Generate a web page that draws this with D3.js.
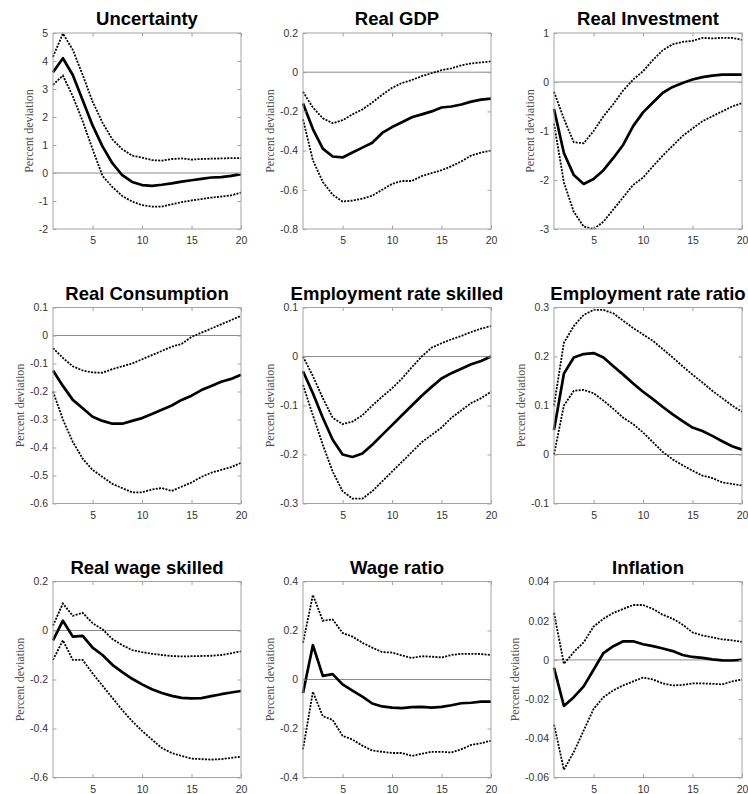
<!DOCTYPE html>
<html>
<head>
<meta charset="utf-8">
<script src="https://cdn.jsdelivr.net/npm/d3@7"></script>
<style>
  body { margin: 0; background: #fff; }
  svg { display: block; }
</style>
</head>
<body>
<svg id="chart" width="748" height="794"></svg>
<script>
// Impulse responses to an uncertainty shock: median with error bands, 20 quarters.
const horizons = [1,2,3,4,5,6,7,8,9,10,11,12,13,14,15,16,17,18,19,20];
const xTicks = [5, 10, 15, 20];

const titles = ["Uncertainty", "Real GDP", "Real Investment",
                "Real Consumption", "Employment rate skilled", "Employment rate ratio",
                "Real wage skilled", "Wage ratio", "Inflation"];

// Uncertainty
const uncMedian = [3.6, 4.1, 3.5, 2.6, 1.7, 0.95, 0.35, -0.08, -0.32, -0.43, -0.46, -0.42, -0.37, -0.31, -0.26, -0.21, -0.16, -0.15, -0.1, -0.04];
const uncUpper  = [4.15, 4.98, 4.4, 3.5, 2.55, 1.8, 1.2, 0.85, 0.62, 0.55, 0.46, 0.44, 0.5, 0.52, 0.48, 0.5, 0.51, 0.52, 0.53, 0.53];
const uncLower  = [3.15, 3.48, 2.74, 1.85, 0.85, -0.1, -0.5, -0.82, -1.02, -1.15, -1.2, -1.2, -1.12, -1.04, -0.98, -0.93, -0.88, -0.84, -0.8, -0.7];
const uncTicks  = [-2, -1, 0, 1, 2, 3, 4, 5];

// Real GDP
const gdpMedian = [-0.16, -0.29, -0.39, -0.43, -0.435, -0.41, -0.385, -0.36, -0.31, -0.28, -0.255, -0.23, -0.215, -0.2, -0.18, -0.175, -0.165, -0.15, -0.14, -0.135];
const gdpUpper  = [-0.1, -0.18, -0.235, -0.26, -0.245, -0.215, -0.19, -0.155, -0.115, -0.08, -0.055, -0.04, -0.02, -0.005, 0.01, 0.02, 0.035, 0.045, 0.05, 0.055];
const gdpLower  = [-0.24, -0.45, -0.56, -0.625, -0.66, -0.655, -0.645, -0.63, -0.6, -0.57, -0.555, -0.555, -0.53, -0.515, -0.5, -0.48, -0.455, -0.425, -0.41, -0.4];
const gdpTicks  = [-0.8, -0.6, -0.4, -0.2, 0, 0.2];

// Real investment
const invMedian = [-0.55, -1.45, -1.9, -2.08, -1.98, -1.8, -1.55, -1.28, -0.9, -0.62, -0.42, -0.22, -0.1, -0.02, 0.05, 0.1, 0.13, 0.15, 0.15, 0.15];
const invUpper  = [-0.2, -0.75, -1.23, -1.25, -1.0, -0.7, -0.45, -0.17, 0.05, 0.22, 0.45, 0.65, 0.77, 0.82, 0.84, 0.9, 0.89, 0.9, 0.9, 0.86];
const invLower  = [-0.85, -2.05, -2.65, -2.95, -3.0, -2.85, -2.6, -2.35, -2.1, -1.95, -1.72, -1.5, -1.3, -1.1, -0.95, -0.8, -0.7, -0.6, -0.5, -0.43];
const invTicks  = [-3, -2, -1, 0, 1];

// Real consumption
const conMedian = [-0.125, -0.18, -0.23, -0.26, -0.29, -0.305, -0.315, -0.315, -0.305, -0.295, -0.28, -0.265, -0.25, -0.23, -0.215, -0.195, -0.18, -0.165, -0.155, -0.14];
const conUpper  = [-0.045, -0.08, -0.11, -0.125, -0.132, -0.133, -0.12, -0.11, -0.1, -0.085, -0.07, -0.055, -0.04, -0.03, -0.005, 0.01, 0.025, 0.04, 0.055, 0.07];
const conLower  = [-0.2, -0.3, -0.38, -0.44, -0.48, -0.505, -0.53, -0.545, -0.56, -0.56, -0.55, -0.545, -0.555, -0.54, -0.525, -0.505, -0.49, -0.48, -0.47, -0.455];
const conTicks  = [-0.6, -0.5, -0.4, -0.3, -0.2, -0.1, 0, 0.1];

// Employment rate, skilled
const empMedian = [-0.03, -0.075, -0.125, -0.17, -0.2, -0.205, -0.198, -0.18, -0.16, -0.14, -0.12, -0.1, -0.08, -0.062, -0.045, -0.034, -0.025, -0.016, -0.009, 0.0];
const empUpper  = [0.0, -0.04, -0.085, -0.125, -0.138, -0.133, -0.12, -0.1, -0.082, -0.065, -0.045, -0.022, 0.0, 0.018, 0.027, 0.035, 0.042, 0.05, 0.057, 0.062];
const empLower  = [-0.058, -0.12, -0.18, -0.235, -0.275, -0.29, -0.29, -0.275, -0.255, -0.235, -0.215, -0.195, -0.175, -0.16, -0.145, -0.125, -0.11, -0.095, -0.085, -0.072];
const empTicks  = [-0.3, -0.2, -0.1, 0, 0.1];

// Employment rate ratio
const eraMedian = [0.05, 0.165, 0.198, 0.205, 0.207, 0.198, 0.18, 0.163, 0.145, 0.128, 0.113, 0.097, 0.082, 0.068, 0.055, 0.048, 0.038, 0.027, 0.017, 0.01];
const eraUpper  = [0.1, 0.228, 0.262, 0.285, 0.295, 0.295, 0.288, 0.273, 0.258, 0.245, 0.232, 0.215, 0.198, 0.18, 0.163, 0.147, 0.13, 0.115, 0.1, 0.087];
const eraLower  = [0.0, 0.1, 0.13, 0.132, 0.125, 0.11, 0.093, 0.075, 0.062, 0.045, 0.025, 0.005, -0.01, -0.022, -0.033, -0.043, -0.048, -0.057, -0.06, -0.063];
const eraTicks  = [-0.1, 0, 0.1, 0.2, 0.3];

// Real wage, skilled
const rwsMedian = [-0.04, 0.04, -0.025, -0.022, -0.07, -0.1, -0.14, -0.17, -0.197, -0.22, -0.24, -0.255, -0.267, -0.275, -0.277, -0.276, -0.268, -0.26, -0.253, -0.247];
const rwsUpper  = [0.02, 0.11, 0.06, 0.072, 0.03, 0.005, -0.035, -0.06, -0.08, -0.088, -0.095, -0.1, -0.104, -0.106, -0.105, -0.104, -0.103, -0.1, -0.093, -0.085];
const rwsLower  = [-0.12, -0.04, -0.12, -0.12, -0.175, -0.225, -0.275, -0.325, -0.37, -0.41, -0.445, -0.48, -0.5, -0.512, -0.523, -0.525, -0.527, -0.525, -0.52, -0.515];
const rwsTicks  = [-0.6, -0.4, -0.2, 0, 0.2];

// Wage ratio
const wrMedian = [-0.055, 0.14, 0.015, 0.022, -0.02, -0.045, -0.07, -0.098, -0.11, -0.115, -0.117, -0.113, -0.112, -0.115, -0.112, -0.105, -0.097, -0.095, -0.09, -0.09];
const wrUpper  = [0.15, 0.345, 0.24, 0.245, 0.19, 0.175, 0.15, 0.13, 0.112, 0.11, 0.098, 0.088, 0.095, 0.093, 0.09, 0.1, 0.105, 0.105, 0.104, 0.1];
const wrLower  = [-0.285, -0.05, -0.15, -0.165, -0.23, -0.245, -0.27, -0.29, -0.295, -0.3, -0.3, -0.312, -0.303, -0.295, -0.295, -0.298, -0.285, -0.267, -0.26, -0.25];
const wrTicks  = [-0.4, -0.2, 0, 0.2, 0.4];

// Inflation
const infMedian = [-0.004, -0.0235, -0.019, -0.0135, -0.005, 0.0035, 0.007, 0.0095, 0.0095, 0.008, 0.007, 0.0058, 0.0045, 0.0025, 0.0015, 0.001, 0.0003, -0.0002, -0.0003, 0.0];
const infUpper  = [0.024, -0.002, 0.004, 0.009, 0.017, 0.021, 0.024, 0.026, 0.028, 0.028, 0.026, 0.023, 0.021, 0.018, 0.014, 0.0125, 0.0115, 0.0105, 0.01, 0.0092];
const infLower  = [-0.033, -0.056, -0.047, -0.036, -0.025, -0.019, -0.0155, -0.013, -0.011, -0.009, -0.01, -0.012, -0.013, -0.0128, -0.012, -0.012, -0.0122, -0.0125, -0.011, -0.01];
const infTicks  = [-0.06, -0.04, -0.02, 0, 0.02, 0.04];

const panels = [
  { median: uncMedian, upper: uncUpper, lower: uncLower, ticks: uncTicks },
  { median: gdpMedian, upper: gdpUpper, lower: gdpLower, ticks: gdpTicks },
  { median: invMedian, upper: invUpper, lower: invLower, ticks: invTicks },
  { median: conMedian, upper: conUpper, lower: conLower, ticks: conTicks },
  { median: empMedian, upper: empUpper, lower: empLower, ticks: empTicks },
  { median: eraMedian, upper: eraUpper, lower: eraLower, ticks: eraTicks },
  { median: rwsMedian, upper: rwsUpper, lower: rwsLower, ticks: rwsTicks },
  { median: wrMedian,  upper: wrUpper,  lower: wrLower,  ticks: wrTicks },
  { median: infMedian, upper: infUpper, lower: infLower, ticks: infTicks }
].map((p, i) => ({ ...p, title: titles[i] }));

// Grid geometry
const colLeft = [53, 303, 554];
const rowTop = [33, 307.5, 581.5];
const plotW = 188, plotH = 196;
const boxColor = "#a3a3a3";
const tickLen = 3.5;
const fmt = v => String(parseFloat(v.toFixed(4)));

const svg = d3.select("#chart");

panels.forEach((p, i) => {
  const left = colLeft[i % 3], top = rowTop[Math.floor(i / 3)];
  const x = d3.scaleLinear().domain([1, 20]).range([0, plotW]);
  const y = d3.scaleLinear().domain(d3.extent(p.ticks)).range([plotH, 0]);

  const g = svg.append("g").attr("transform", `translate(${left},${top})`);

  // zero reference line
  g.append("line")
    .attr("x1", 0).attr("x2", plotW)
    .attr("y1", y(0)).attr("y2", y(0))
    .attr("stroke", "#8c8c8c").attr("stroke-width", 1);

  const line = d3.line().x((d, k) => x(horizons[k])).y(d => y(d));

  // error bands
  [p.upper, p.lower].forEach(band => {
    g.append("path").datum(band)
      .attr("d", line)
      .attr("fill", "none")
      .attr("stroke", "#000")
      .attr("stroke-width", 1.8)
      .attr("stroke-dasharray", "2,1.3");
  });

  // median response
  g.append("path").datum(p.median)
    .attr("d", line)
    .attr("fill", "none")
    .attr("stroke", "#000")
    .attr("stroke-width", 2.7)
    .attr("stroke-linejoin", "round");

  // axes: inward ticks on all four sides
  const axisStyle = sel => {
    sel.select(".domain").remove();
    sel.selectAll(".tick line").attr("stroke", boxColor);
    sel.selectAll(".tick text")
      .attr("fill", "#333")
      .style("font-family", "'Liberation Sans', Arial, sans-serif")
      .style("font-size", "10.5px");
  };

  g.append("g").attr("transform", `translate(0,${plotH})`)
    .call(d3.axisBottom(x).tickValues(xTicks).tickFormat(fmt).tickSizeInner(-tickLen).tickSizeOuter(0).tickPadding(8))
    .call(axisStyle);
  g.append("g")
    .call(d3.axisTop(x).tickValues(xTicks).tickFormat("").tickSizeInner(-tickLen).tickSizeOuter(0))
    .call(axisStyle);
  const yAxis = g.append("g")
    .call(d3.axisLeft(y).tickValues(p.ticks).tickFormat(fmt).tickSizeInner(-tickLen).tickSizeOuter(0).tickPadding(5))
    .call(axisStyle);
  g.append("g").attr("transform", `translate(${plotW},0)`)
    .call(d3.axisRight(y).tickValues(p.ticks).tickFormat("").tickSizeInner(-tickLen).tickSizeOuter(0))
    .call(axisStyle);

  // plot box
  g.append("rect")
    .attr("x", 0).attr("y", 0).attr("width", plotW).attr("height", plotH)
    .attr("fill", "none").attr("stroke", boxColor).attr("stroke-width", 1);

  // y-axis label placed left of the widest tick label
  let maxW = 0;
  yAxis.selectAll(".tick text").each(function () {
    maxW = Math.max(maxW, this.getComputedTextLength());
  });
  const lx = -5 - maxW - 10;
  g.append("text")
    .attr("transform", `translate(${lx},${plotH / 2}) rotate(-90)`)
    .attr("text-anchor", "middle")
    .attr("dy", "0.35em")
    .attr("fill", "#505050")
    .style("font-family", "'Liberation Serif', 'Times New Roman', serif")
    .style("font-size", "12px")
    .text("Percent deviation");

  // panel title
  g.append("text")
    .attr("x", plotW / 2).attr("y", -8)
    .attr("text-anchor", "middle")
    .attr("fill", "#000")
    .style("font-family", "'Liberation Sans', Arial, sans-serif")
    .style("font-weight", "bold")
    .style("font-size", "18.5px")
    .text(p.title);
});
</script>
</body>
</html>
